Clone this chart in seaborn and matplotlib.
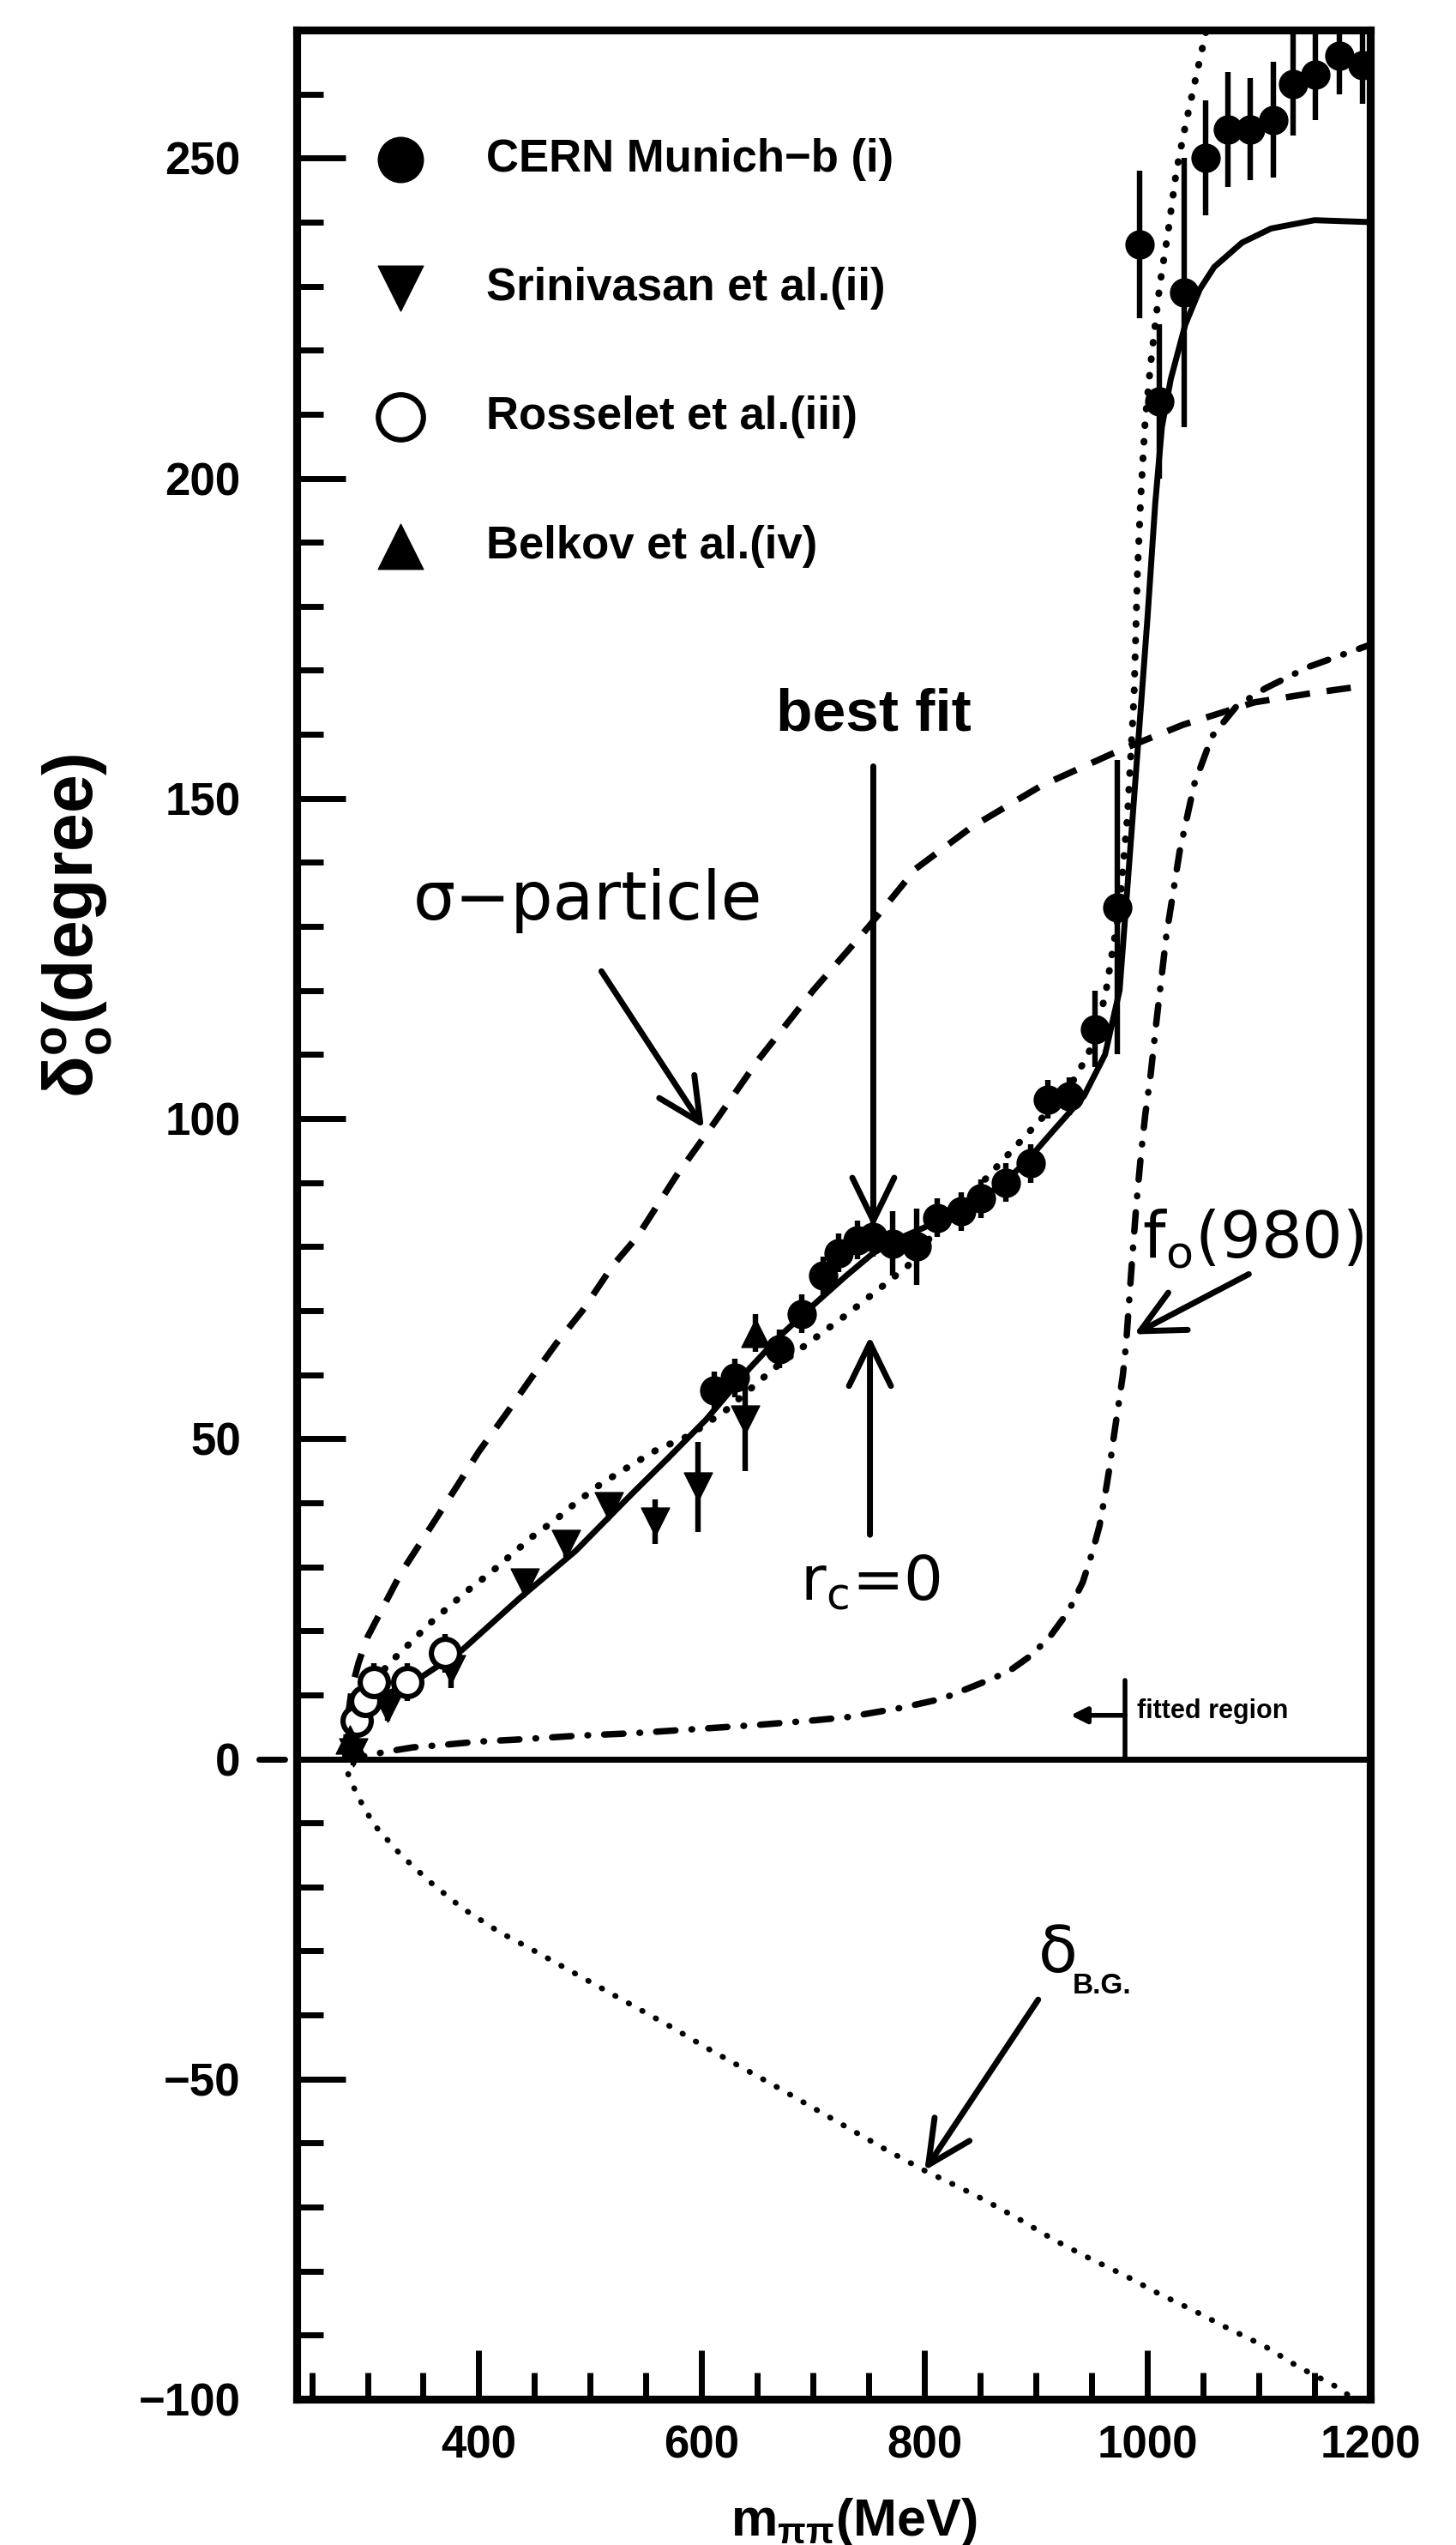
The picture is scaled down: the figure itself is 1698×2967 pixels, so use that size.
import matplotlib
matplotlib.use("Agg")
import matplotlib.pyplot as plt
import seaborn as sns
from matplotlib.ticker import MultipleLocator

# ---------------- measured phase shifts ----------------
# CERN Munich-b (filled circles)
cern_mass = [611, 630, 670, 690, 709, 723, 740, 754, 771, 793, 811, 833, 851, 873, 895,
             911, 930, 953, 973, 993, 1011, 1033, 1052, 1072, 1092, 1113, 1131, 1151, 1172, 1193]
cern_delta = [57.5, 59.5, 64, 69.5, 75.5, 79, 81, 81.5, 80.5, 80, 84.5, 85.5, 87.5, 90, 93,
              103, 103.5, 114, 133, 236.5, 212, 229, 250, 254.5, 254.5, 256, 261.5, 263, 266, 264.5]
cern_err = [3, 3, 3, 3, 3, 3, 3, 3, 5, 6, 3, 3, 3, 3, 3,
            3, 3, 6, 23, 11.5, 12, 21, 9, 9, 8, 9, 8, 7, 6, 6]

# Srinivasan et al. (down triangles)
srin_mass = [287, 318, 375, 441, 478, 517, 558, 597, 639]
srin_delta = [1, 8, 14, 27.5, 33.5, 39.5, 37, 42.5, 53]
srin_err = [2, 2, 3, 2, 2, 2, 3.5, 7, 8]

# Rosselet et al. (open circles)
ross_mass = [290, 298, 306, 336, 370]
ross_delta = [6, 9, 12, 12, 16.5]
ross_err = [3, 3, 3, 3, 3]

# Belkov et al. (up triangles)
belk_mass = [284, 648]
belk_delta = [3, 66.5]
belk_err = [3, 3]

# ---------------- model curves ----------------
best_fit_mass = [280, 283, 290, 300, 316, 346, 385, 436, 487, 538, 570, 604, 643, 670, 701, 730,
                 754, 780, 800, 830, 864, 890, 915, 943, 962, 975, 982, 991, 1000, 1007, 1013,
                 1021, 1034, 1047, 1060, 1085, 1111, 1150, 1200]
best_fit_delta = [0, 4, 6.5, 8, 10, 12.5, 17, 25, 32.5, 41.5, 47, 53, 61, 66, 71, 75.5,
                  79, 81.5, 83, 86, 89, 93, 98, 103.5, 110, 120, 136, 157, 178, 196, 208,
                  215.5, 224, 229.5, 233, 236.8, 239, 240.3, 240]

rc0_mass = [280, 283, 290, 300, 308, 320, 339, 355, 372, 390, 410, 430, 448, 470, 487, 510,
            538, 560, 589, 622, 665, 700, 731, 760, 785, 810, 841, 873, 905, 927, 947, 962,
            975, 982, 988, 991, 994, 998, 1003, 1011, 1019, 1026, 1034, 1044, 1058]
rc0_delta = [0, 2, 6.7, 10.5, 12.5, 15, 18.2, 21, 23.6, 26.3, 29, 32, 34.7, 37.5, 40, 43,
             46, 48.3, 50.5, 54.5, 61, 65.5, 69.5, 73.5, 77, 82.5, 88, 94, 100, 104, 110, 119,
             133, 147, 166, 185, 197, 209, 218, 230, 239, 248, 255, 263, 274]

sigma_mass = [280, 282, 286, 292, 300, 312, 330, 356, 380, 400, 425, 445, 470, 493, 520, 542,
              577, 612, 650, 700, 750, 792, 842, 905, 975, 1032, 1096, 1150, 1200]
sigma_delta = [0, 6, 11, 15, 19, 23, 29, 36, 42.5, 48, 54, 59, 65, 70, 77, 81.5,
               91, 99.5, 109, 120, 130, 139, 145.5, 152, 157.5, 161.5, 165, 166.5, 167.7]

f0_mass = [280, 300, 316, 341, 369, 400, 433, 487, 538, 599, 650, 700, 730, 780, 816, 849, 875,
           896, 913, 929, 942, 951, 957, 962, 966, 970, 974, 978, 981, 983, 986, 990, 994, 998,
           1003, 1008, 1017, 1029, 1042, 1058, 1080, 1106, 1144, 1200]
f0_delta = [0, 0.5, 1.1, 1.8, 2.2, 2.7, 3, 3.6, 4, 4.7, 5.3, 6, 6.5, 8, 9.4, 11.7, 13.6,
            16.2, 19.2, 23, 27.6, 32.5, 36.4, 41.2, 45.5, 50.5, 55.2, 60, 65, 70, 77.3, 86.4, 94,
            100.5, 107, 115, 128.6, 141.8, 152.2, 159.7, 164.4, 167.2, 170.5, 174]

bg_mass = [280, 282, 285, 295, 306, 330, 356, 385, 418, 450, 481, 512, 543, 574, 605, 636, 668,
           700, 730, 765, 800, 830, 855, 886, 917, 948, 980, 1010, 1042, 1073, 1105, 1136, 1167, 1190]
bg_delta = [0, -2, -3.5, -7, -10.3, -15, -19.2, -23.3, -27, -30, -33, -36, -39, -42, -45.2,
            -48.2, -51.3, -54.5, -57.5, -61, -64.3, -66.8, -69, -72, -75.2, -78, -80.7, -83.5,
            -86.2, -89, -91.7, -95, -97.8, -100.5]

x_major_ticks = [400, 600, 800, 1000, 1200]
y_major_ticks = [-100, -50, 0, 50, 100, 150, 200, 250]

# ---------------- styling ----------------
sns.set_theme(style="ticks")
plt.rcParams["font.family"] = ["Liberation Sans", "DejaVu Sans"]
plt.rcParams["mathtext.fontset"] = "custom"
plt.rcParams["mathtext.rm"] = "Liberation Sans"
plt.rcParams["mathtext.it"] = "Liberation Sans:italic"
plt.rcParams["mathtext.bf"] = "Liberation Sans:bold"
plt.rcParams["mathtext.default"] = "regular"
for key in ["text.color", "axes.labelcolor", "xtick.color", "ytick.color", "axes.edgecolor"]:
    plt.rcParams[key] = "black"

ANNOT_FONT = ["DejaVu Sans"]

W, H, DPI = 1699, 2967, 200
fig = plt.figure(figsize=(W / DPI, H / DPI), dpi=DPI)
fig.patch.set_facecolor("white")
ax = fig.add_axes([346 / W, 170 / H, 1252 / W, 2762 / H])
ax.set_facecolor("white")

LW = 2.5


def curve(xs, ys, **kw):
    sns.lineplot(x=xs, y=ys, ax=ax, color="black", sort=False, estimator=None,
                 legend=False, **kw)


curve(best_fit_mass, best_fit_delta, linewidth=LW, zorder=3)
curve(rc0_mass, rc0_delta, linewidth=2.9, linestyle=(0, (0.1, 2.3)),
      dash_capstyle="round", zorder=3)
curve(sigma_mass, sigma_delta, linewidth=2.7, linestyle=(0, (3.8, 2.6)), zorder=3)
curve(f0_mass, f0_delta, linewidth=2.7, linestyle=(0, (3.0, 2.5, 0.1, 2.5)),
      dash_capstyle="round", zorder=3)
curve(bg_mass, bg_delta, linewidth=2.4, linestyle=(0, (0.1, 2.6)),
      dash_capstyle="round", zorder=3)

# zero line, with a short stub outside the frame
ax.axhline(0, color="black", linewidth=LW, zorder=2)
ax.plot([203, 226], [0, 0], color="black", linewidth=LW, clip_on=False)

# error bars
for xs, ys, es in [(cern_mass, cern_delta, cern_err), (srin_mass, srin_delta, srin_err),
                   (ross_mass, ross_delta, ross_err), (belk_mass, belk_delta, belk_err)]:
    ax.errorbar(xs, ys, yerr=es, fmt="none", ecolor="black", elinewidth=2.3,
                capsize=0, zorder=4)

MS = 140
sns.scatterplot(x=cern_mass, y=cern_delta, ax=ax, marker="o", s=MS, color="black",
                edgecolor="black", linewidth=0.5, label="CERN Munich\u2212b (i)", zorder=5)
sns.scatterplot(x=srin_mass, y=srin_delta, ax=ax, marker="v", s=MS, color="black",
                edgecolor="black", linewidth=0.5, label="Srinivasan et al.(ii)", zorder=5)
sns.scatterplot(x=ross_mass, y=ross_delta, ax=ax, marker="o", s=MS, color="white",
                edgecolor="black", linewidth=2.2, label="Rosselet et al.(iii)", zorder=5)
sns.scatterplot(x=belk_mass, y=belk_delta, ax=ax, marker="^", s=MS, color="black",
                edgecolor="black", linewidth=0.5, label="Belkov et al.(iv)", zorder=5)

leg = ax.legend(loc="upper left", bbox_to_anchor=(0.0756, 0.9545), borderaxespad=0,
                borderpad=0, frameon=False, fontsize=19, markerscale=1.6,
                handlelength=1.0, handletextpad=1.39, labelspacing=1.9)
for t in leg.get_texts():
    t.set_fontweight("bold")
    t.set_color("black")

# ---------------- annotations ----------------
arrow = dict(arrowstyle="->,head_length=0.45,head_width=0.22", lw=2.5, color="black",
             shrinkA=0, shrinkB=0, mutation_scale=40)

ax.text(754, 163, "best fit", fontsize=25, fontweight="bold", ha="center", va="center")
ax.annotate("", xy=(754, 83), xytext=(754, 155), arrowprops=arrow)

ax.text(751, 27.5, r"r$_{c}$=0", fontsize=26, family=ANNOT_FONT, ha="center", va="center")
ax.annotate("", xy=(751, 66), xytext=(751, 35), arrowprops=arrow)

ax.text(498, 134, "\u03c3\u2212particle", fontsize=28, family=ANNOT_FONT,
        ha="center", va="center")
ax.annotate("", xy=(602, 98.5), xytext=(510, 123), arrowprops=arrow)

ax.text(1095, 81, r"f$_{o}$(980)", fontsize=27, family=ANNOT_FONT, ha="center", va="center")
ax.annotate("", xy=(988, 66.3), xytext=(1091, 75.7), arrowprops=arrow)

ax.text(920, -30.5, "\u03b4", fontsize=27, family=ANNOT_FONT, ha="center", va="center")
ax.text(933, -35.5, "B.G.", fontsize=12, fontweight="bold", ha="left", va="center")
ax.annotate("", xy=(800, -64.3), xytext=(902, -37.6), arrowprops=arrow)

ax.plot([980, 980], [0, 12.3], color="black", linewidth=2.0)
ax.annotate("", xy=(931, 6.8), xytext=(980, 6.8),
            arrowprops=dict(arrowstyle="-|>", lw=2.0, color="black", shrinkA=0, shrinkB=0,
                            mutation_scale=14))
ax.text(991, 7.5, "fitted region", fontsize=11, fontweight="bold", ha="left", va="center")

# ---------------- axes ----------------
ax.set_xlim(236.5, 1200)
ax.set_ylim(-100, 270)
ax.set_xticks(x_major_ticks)
ax.set_yticks(y_major_ticks)
ax.xaxis.set_minor_locator(MultipleLocator(50))
ax.yaxis.set_minor_locator(MultipleLocator(10))
ax.tick_params(which="both", direction="in", top=False, right=False, color="black",
               width=2.5)
ax.tick_params(which="major", length=20.5, labelsize=19)
ax.tick_params(which="minor", length=11)
ax.tick_params(axis="y", which="major", pad=23.5)
ax.tick_params(axis="x", which="major", pad=10.5)
for lbl in ax.get_xticklabels() + ax.get_yticklabels():
    lbl.set_fontweight("bold")
    lbl.set_color("black")

for sp in ax.spines.values():
    sp.set_visible(True)
    sp.set_linewidth(3.3)
    sp.set_color("black")

ax.set_xlabel(r"m$_{\pi\pi}$(MeV)", fontsize=22, fontweight="bold", color="black")
ax.xaxis.set_label_coords(0.519, -0.041)
ax.set_ylabel(r"$\delta_{o}^{o}$(degree)", fontsize=29, fontweight="bold", color="black")
ax.yaxis.set_label_coords(-0.17, 0.622)

fig.savefig("out.png", dpi=DPI, facecolor="white")
